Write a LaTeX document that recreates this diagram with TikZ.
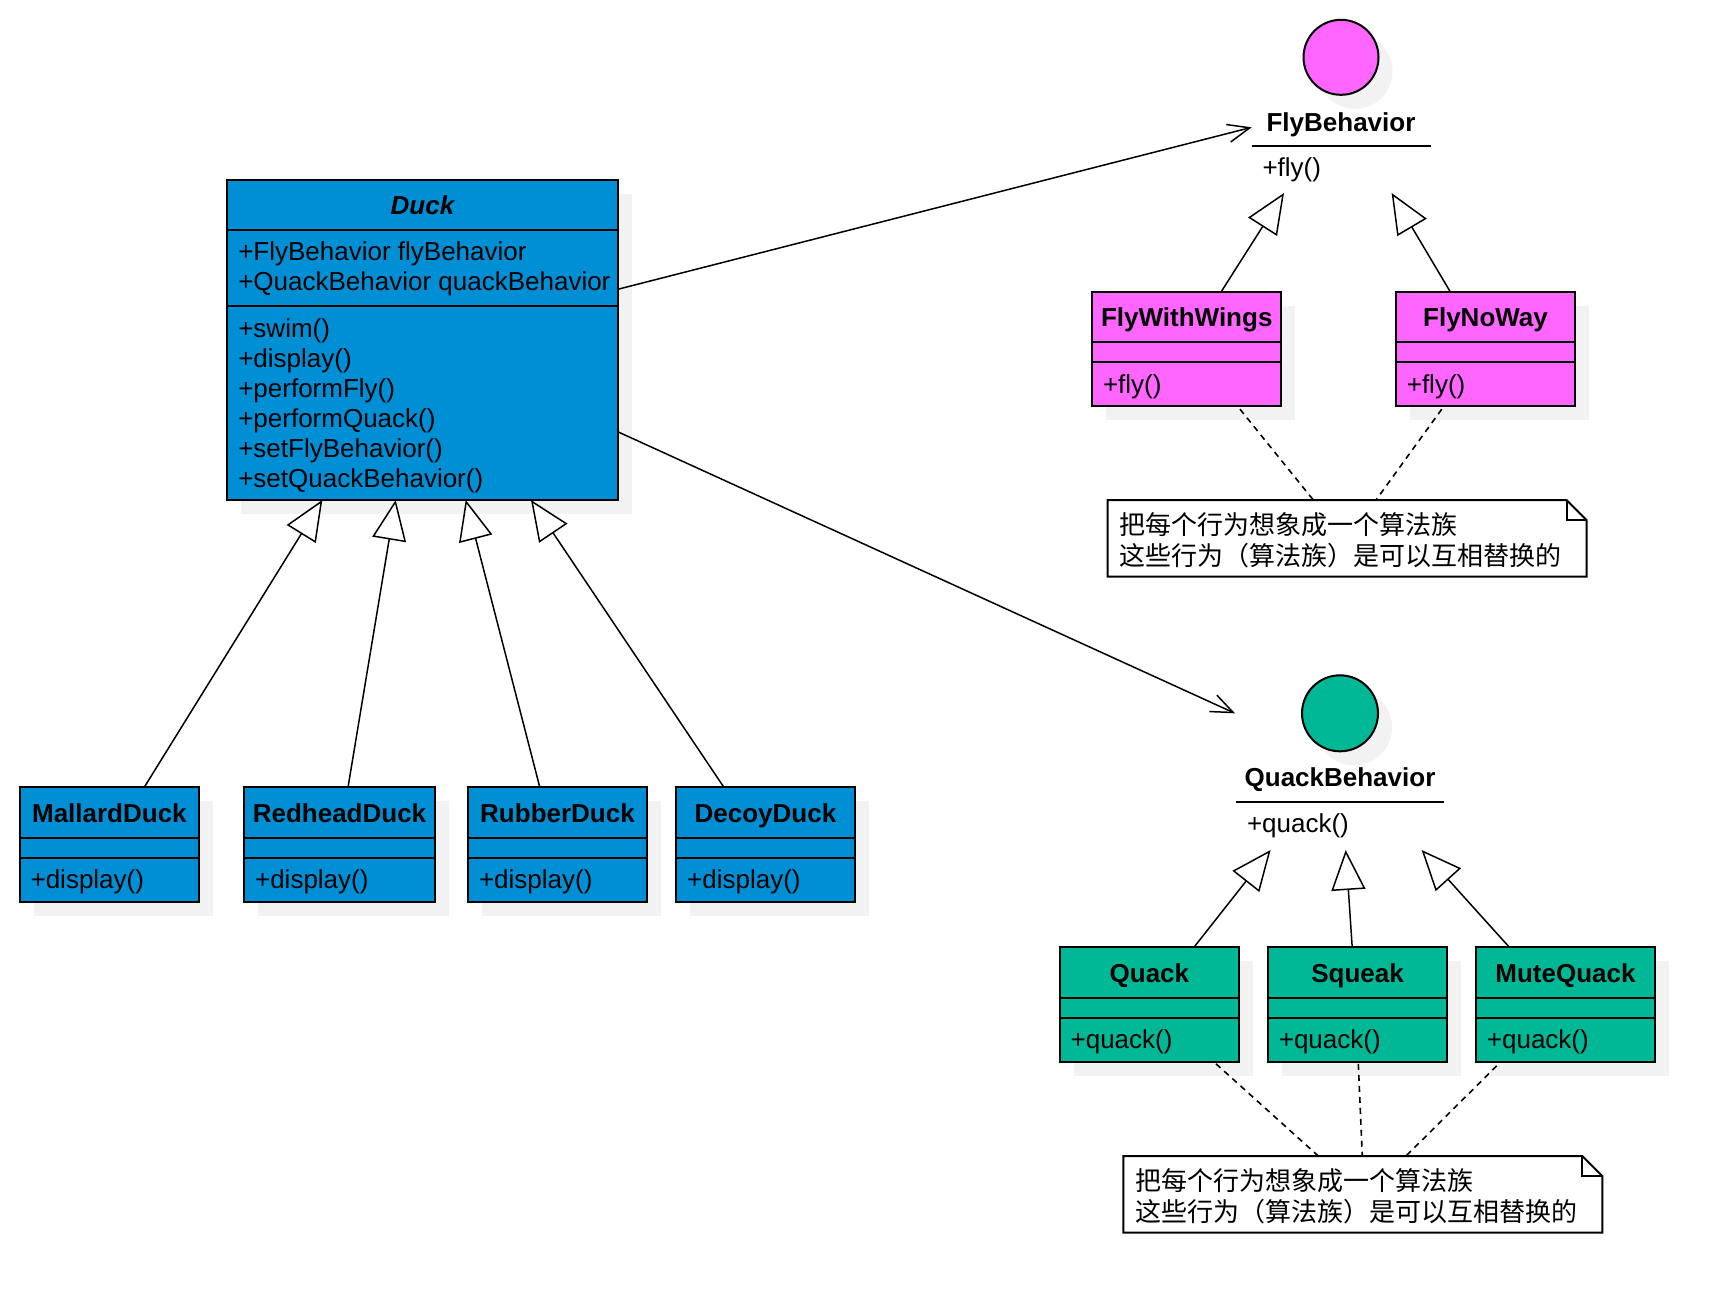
\documentclass[tikz,border=0pt]{standalone}
\usepackage{fontspec}
\setmainfont{Liberation Sans}
\newfontfamily\cjk{Noto Sans CJK SC}
\usetikzlibrary{arrows.meta,shadows,calc}

\definecolor{duckblue}{RGB}{0,143,213}
\definecolor{flypink}{RGB}{255,102,255}
\definecolor{quackgreen}{RGB}{0,183,150}
\definecolor{shadowgray}{RGB}{242,242,242}

\newcommand\txtsize{\fontsize{13}{16}\selectfont}

\tikzset{
  boxshadow/.style={general shadow={fill=shadowgray, shadow xshift=7pt, shadow yshift=-7pt}},
  classbox/.style={draw=black, line width=1pt, inner sep=0pt, outer sep=0pt,
    anchor=north west, boxshadow},
  iface/.style={circle, draw=black, line width=1pt, inner sep=0pt, outer sep=0pt, boxshadow},
  txt/.style={inner sep=0pt, outer sep=0pt},
  rule/.style={line width=1pt},
  gen/.style={line width=0.75pt, -{Triangle[length=20pt, width=17pt, fill=white]}},
  assoc/.style={line width=0.75pt, -{Straight Barb[length=11pt, width=9pt]}},
  anchorline/.style={line width=0.8pt, dash pattern=on 3pt off 2.5pt},
  notebox/.style={line width=1pt, draw=black, fill=white},
}

% class with a name row, an empty attribute row and one operation
% #1 name, #2 x, #3 y, #4 width, #5 fill, #6 title, #7 operation
\newcommand\smallclass[7]{%
  \node[classbox, fill=#5, minimum width=#4*0.5pt, minimum height=57.25pt] (#1) at (#2,#3) {};
  \draw[rule] ($(#1.north west)+(0,50.5)$) -- ($(#1.north east)+(0,50.5)$);
  \draw[rule] ($(#1.north west)+(0,70.5)$) -- ($(#1.north east)+(0,70.5)$);
  \node[txt, anchor=base, font=\txtsize\bfseries] (#1-name) at ($(#1.north)+(0,34.8)$) {#6};
  \node[txt, anchor=base west] (#1-op) at ($(#1.north west)+(11,101.5)$) {#7};
}

% note with a folded corner
% #1 name, #2 x, #3 y
\newcommand\umlnote[3]{%
  \node[txt, anchor=north west, minimum width=239.5pt, minimum height=38.35pt] (#1) at (#2,#3) {};
  \draw[notebox] (#1.north west) -- ($(#1.north east)+(-20,0)$) -- ($(#1.north east)+(0,20)$)
    -- (#1.south east) -- (#1.south west) -- cycle;
  \draw[rule] ($(#1.north east)+(-20,0)$) -- ($(#1.north east)+(-20,20)$) -- ($(#1.north east)+(0,20)$);
  \node[txt, anchor=base west, font=\txtsize\cjk] (#1-l1) at ($(#1.north west)+(12,34)$) {把每个行为想象成一个算法族};
  \node[txt, anchor=base west, font=\txtsize\cjk] (#1-l2) at ($(#1.north west)+(12,65)$) {这些行为（算法族）是可以互相替换的};
}

\begin{document}
\begin{tikzpicture}[x=0.5pt, y=-0.5pt, font=\txtsize]
\fill[white] (0,0) rectangle (1734,1314);
\useasboundingbox (0,0) rectangle (1734,1314);

% ---- Duck (abstract) ----
\node[classbox, fill=duckblue, minimum width=195.2pt, minimum height=160pt] (duck) at (227.3,180) {};
\draw[rule] ($(duck.north west)+(0,50)$) -- ($(duck.north east)+(0,50)$);
\draw[rule] ($(duck.north west)+(0,126)$) -- ($(duck.north east)+(0,126)$);
\node[txt, anchor=base, font=\txtsize\bfseries\itshape] (duck-name) at ($(duck.north)+(0,34.5)$) {Duck};
\node[txt, anchor=base west] (duck-a1) at ($(duck.north west)+(11,80.5)$) {+FlyBehavior flyBehavior};
\node[txt, anchor=base west] (duck-a2) at ($(duck.north west)+(11,110.5)$) {+QuackBehavior quackBehavior};
\foreach \op [count=\i] in {+swim(),+display(),+performFly(),+performQuack(),+setFlyBehavior(),+setQuackBehavior()}
  \node[txt, anchor=base west] (duck-op\i) at ($(duck.north west)+(11,{127+30*\i})$) {\op};

% ---- concrete ducks ----
\smallclass{mallard}{19.6}{787.3}{179.6}{duckblue}{MallardDuck}{+display()}
\smallclass{redhead}{244.1}{787.3}{190.8}{duckblue}{RedheadDuck}{+display()}
\smallclass{rubber}{468}{787.3}{179}{duckblue}{RubberDuck}{+display()}
\smallclass{decoy}{676.2}{787.3}{178.5}{duckblue}{DecoyDuck}{+display()}

% ---- FlyBehavior interface ----
\node[iface, fill=flypink, minimum size=37.5pt] (flyiface) at (1341,57.3) {};
\node[txt, anchor=base, font=\txtsize\bfseries] (flyiface-name) at ($(flyiface.center)+(0,74)$) {FlyBehavior};
\draw[rule] ($(flyiface.center)+(-89.5,88.4)$) -- ++(179,0);
\node[txt, anchor=base west] (flyiface-op) at ($(flyiface.center)+(-78.5,119.2)$) {+fly()};

\smallclass{fww}{1092}{291.7}{189.4}{flypink}{FlyWithWings}{+fly()}
\smallclass{fnw}{1395.8}{291.7}{179.4}{flypink}{FlyNoWay}{+fly()}

% ---- QuackBehavior interface ----
\node[iface, fill=quackgreen, minimum size=38pt] (quackiface) at (1340,713.3) {};
\node[txt, anchor=base, font=\txtsize\bfseries] (quackiface-name) at ($(quackiface.center)+(0,73.3)$) {QuackBehavior};
\draw[rule] ($(quackiface.center)+(-104,88.4)$) -- ++(208,0);
\node[txt, anchor=base west] (quackiface-op) at ($(quackiface.center)+(-93,118.7)$) {+quack()};

\smallclass{qk}{1059.6}{947.3}{179.6}{quackgreen}{Quack}{+quack()}
\smallclass{sq}{1267.8}{947.3}{179.5}{quackgreen}{Squeak}{+quack()}
\smallclass{mq}{1475.9}{947.3}{179.2}{quackgreen}{MuteQuack}{+quack()}

% ---- notes ----
\draw[anchorline] ($(fww.south west)+(148,3)$) -- (1313.3,500);
\draw[anchorline] ($(fnw.south west)+(45.9,3)$) -- (1376,500);
\umlnote{note1}{1107.5}{500}
\draw[anchorline] ($(qk.south west)+(156.4,2)$) -- (1318.3,1156);
\draw[anchorline] ($(sq.south west)+(90.5,2)$) -- (1362.3,1156);
\draw[anchorline] ($(mq.south west)+(20.8,4)$) -- (1406,1156);
\umlnote{note2}{1123.3}{1156}

% ---- associations ----
\draw[assoc] ($(duck.north east)+(0,109.3)$) -- ($(flyiface.center)+(-89.3,70)$);
\draw[assoc] ($(duck.north east)+(0,251.7)$) -- ($(quackiface.center)+(-105,0)$);

% ---- generalisations ----
\draw[gen] ($(mallard.north west)+(124.6,0)$) -- ($(duck.south west)+(95,0)$);
\draw[gen] ($(redhead.north west)+(103.9,0)$) -- ($(duck.south west)+(168.4,0)$);
\draw[gen] ($(rubber.north west)+(71.8,0)$) -- ($(duck.south west)+(238.4,0)$);
\draw[gen] ($(decoy.north west)+(47.7,0)$) -- ($(duck.south west)+(303.7,0)$);

\draw[gen] ($(fww.north west)+(129.2,0)$) -- ($(flyiface.center)+(-57,135.7)$);
\draw[gen] ($(fnw.north west)+(54.4,0)$) -- ($(flyiface.center)+(50.6,135.7)$);

\draw[gen] ($(qk.north west)+(134.3,0)$) -- ($(quackiface.center)+(-69.4,136.7)$);
\draw[gen] ($(sq.north west)+(84.4,0)$) -- ($(quackiface.center)+(5.7,136.7)$);
\draw[gen] ($(mq.north west)+(33.5,0)$) -- ($(quackiface.center)+(81.6,136.7)$);
\end{tikzpicture}
\end{document}
